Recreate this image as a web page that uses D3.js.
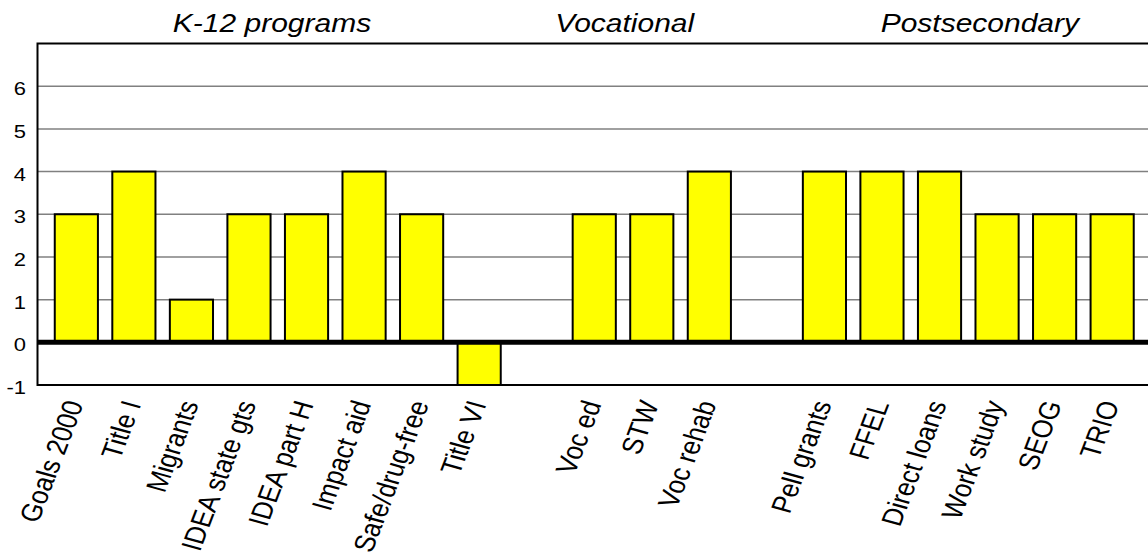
<!DOCTYPE html>
<html>
<head>
<meta charset="utf-8">
<script src="https://cdn.jsdelivr.net/npm/d3@7"></script>
<style>
  body { margin: 0; background: #fff; }
  svg { display: block; font-family: Arial, "Liberation Sans", sans-serif; }
</style>
</head>
<body>
<svg id="chart"></svg>
<script>
// chart values
let programs = ["Goals 2000", "Title I", "Migrants", "IDEA state gts", "IDEA part H",
                "Impact aid", "Safe/drug-free", "Title VI", "",
                "Voc ed", "STW", "Voc rehab", " ",
                "Pell grants", "FFEL", "Direct loans", "Work study", "SEOG", "TRIO"];
let scores = [3, 4, 1, 3, 3, 4, 3, -1, null,
              3, 3, 4, null,
              4, 4, 4, 3, 3, 3];
let groupNames = ["K-12 programs", "Vocational", "Postsecondary"];
let groupCentre = [3.4, 9.53, 15.7];   // in slot units
let yTicks = [-1, 0, 1, 2, 3, 4, 5, 6];

let width = 1148, height = 560;
let plot = {left: 37.5, right: 1151, top: 43.5, bottom: 385};
let squash = 0.85;   // text in the original is a bit flattened vertically

let svg = d3.select("#chart")
  .attr("width", width)
  .attr("height", height);

// scales
let x = d3.scaleBand()
  .domain(programs)
  .range([plot.left, plot.right])
  .paddingInner(0.25)
  .paddingOuter(0.3);

let y = d3.scaleLinear()
  .domain([-1, 7])
  .range([plot.bottom, plot.top]);

let slotX = function(s) {
  return x(programs[0]) + x.bandwidth() / 2 + s * x.step();
};

// gridlines
svg.append("g")
  .selectAll("line")
  .data(yTicks.filter(d => d > 0))
  .enter()
  .append("line")
  .attr("x1", plot.left)
  .attr("x2", width)
  .attr("y1", d => y(d))
  .attr("y2", d => y(d))
  .attr("stroke", "#808080")
  .attr("stroke-width", 1.5);

// bars
let rows = programs.map((p, i) => ({name: p, v: scores[i]})).filter(d => d.v !== null);

svg.append("g")
  .selectAll("rect")
  .data(rows)
  .enter()
  .append("rect")
  .attr("x", d => x(d.name))
  .attr("width", x.bandwidth())
  .attr("y", d => y(Math.max(0, d.v)))
  .attr("height", d => Math.abs(y(d.v) - y(0)))
  .attr("fill", "#ffff00")
  .attr("stroke", "#000")
  .attr("stroke-width", 2);

// frame
svg.append("rect")
  .attr("x", plot.left)
  .attr("y", plot.top)
  .attr("width", plot.right - plot.left + 10)
  .attr("height", plot.bottom - plot.top)
  .attr("fill", "none")
  .attr("stroke", "#000")
  .attr("stroke-width", 2);

// zero line
svg.append("line")
  .attr("x1", plot.left)
  .attr("x2", width)
  .attr("y1", y(0))
  .attr("y2", y(0))
  .attr("stroke", "#000")
  .attr("stroke-width", 5);

// y labels
svg.append("g")
  .selectAll("text")
  .data(yTicks)
  .enter()
  .append("text")
  .attr("transform", d => "translate(26," + (y(d) + 9) + ") scale(1," + squash + ")")
  .attr("text-anchor", "end")
  .attr("font-size", 22)
  .text(d => d);

// category labels
svg.append("g")
  .selectAll("text")
  .data(rows)
  .enter()
  .append("text")
  .attr("transform", d => "translate(" + (x(d.name) + x.bandwidth() / 2 + 7.5) + "," + (plot.bottom + 19) + ") scale(1," + squash + ") rotate(-72)")
  .attr("text-anchor", "end")
  .attr("font-size", 29)
  .text(d => d.name);

// group titles
svg.append("g")
  .selectAll("text")
  .data(groupNames)
  .enter()
  .append("text")
  .attr("transform", (d, i) => "translate(" + slotX(groupCentre[i]) + ",32) scale(1," + squash + ")")
  .attr("text-anchor", "middle")
  .attr("font-size", 30)
  .attr("font-style", "italic")
  .text(d => d);
</script>
</body>
</html>
